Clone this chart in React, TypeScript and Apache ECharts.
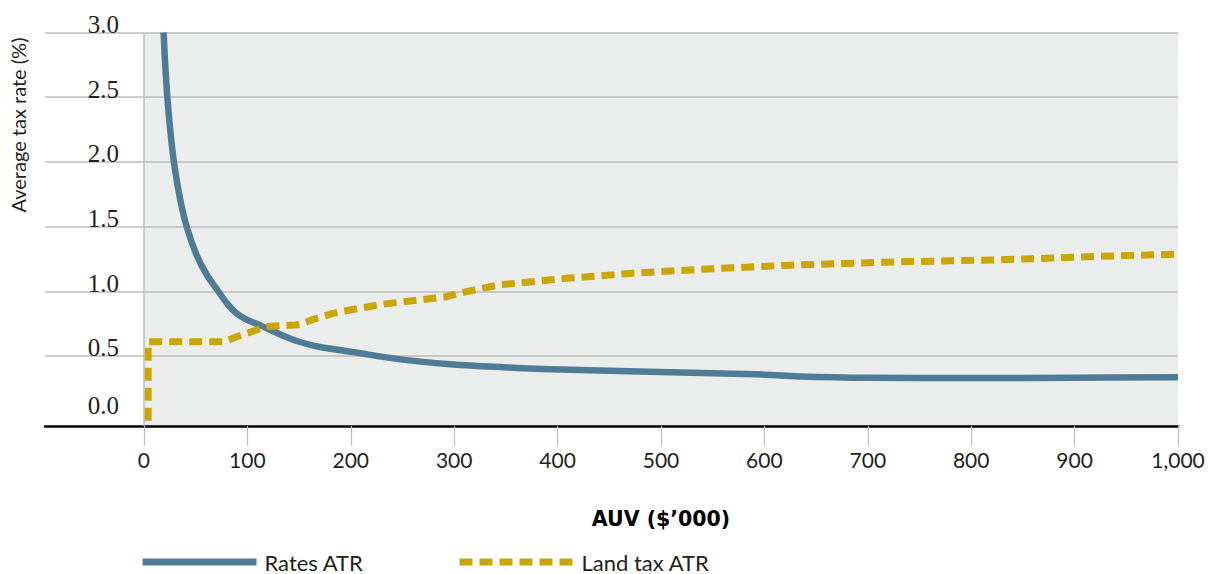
import React, { useEffect, useRef } from "react";
import * as echarts from "echarts";

const FONT = "Lato, 'Open Sans', sans-serif";
const SERIF = "'Liberation Serif', 'DejaVu Serif', serif";
const BLUE = "#4E7C97";
const GOLD = "#C9A600";
const INK = "#231F20";

const xTicks = [0, 100, 200, 300, 400, 500, 600, 700, 800, 900, 1000];
const yTicks = [0, 0.5, 1.0, 1.5, 2.0, 2.5, 3.0];

const ratesX = [19, 20.5, 22.6, 25.5, 29.3, 34.8, 41.3, 50.9, 60.6, 71.9, 80, 88, 97, 110, 120, 135, 150, 170, 200, 248, 296, 350, 393, 450, 489, 570, 600, 634, 700, 800, 900, 1000];
const ratesY = [3.0, 2.76, 2.5, 2.24, 1.98, 1.72, 1.5, 1.28, 1.13, 1.0, 0.91, 0.84, 0.79, 0.745, 0.71, 0.655, 0.61, 0.57, 0.533, 0.474, 0.437, 0.412, 0.398, 0.386, 0.378, 0.362, 0.356, 0.342, 0.332, 0.33, 0.332, 0.336];

const landX = [4, 4, 78, 90, 105, 118, 135, 146, 152, 164, 183, 190, 231, 280, 292, 312, 344, 409, 473, 538, 619, 634, 731, 828, 924, 1000];
const landY = [0, 0.61, 0.61, 0.65, 0.69, 0.727, 0.735, 0.74, 0.745, 0.784, 0.83, 0.843, 0.9, 0.946, 0.958, 0.998, 1.05, 1.1, 1.14, 1.17, 1.2, 1.204, 1.228, 1.243, 1.27, 1.287];

const seriesNames = ["Rates ATR", "Land tax ATR"];
const xTitle = "AUV ($\u2019000)";
const yTitle = "Average tax rate (%)";

const xMin = -95.7;
const xMax = 1000;
const yMin = -0.041;
const yMax = 3;

export default function App() {
  const ref = useRef<HTMLDivElement>(null);
  useEffect(() => {
    if (!ref.current) return;
    const chart = echarts.init(ref.current, undefined, { renderer: "svg" });
    const legendBase = {
      top: 546,
      itemWidth: 114,
      itemHeight: 14,
      textStyle: { fontSize: 22, color: INK, fontFamily: FONT, padding: [0, 0, 0, 3] },
      lineStyle: { width: 7 },
      itemStyle: { opacity: 0 },
    };
    const option: any = {
      animation: false,
      textStyle: { fontFamily: FONT },
      grid: { left: 45, right: 31, top: 32.5, bottom: 148, containLabel: false },
      xAxis: {
        type: "value",
        min: xMin,
        max: xMax,
        z: 3,
        axisLine: { show: true, onZero: false, lineStyle: { color: "#000", width: 2.5 } },
        axisTick: { show: true, customValues: xTicks, length: 20, lineStyle: { color: "#BDBDBD", width: 1.2 } },
        axisLabel: {
          customValues: xTicks,
          margin: 23,
          fontSize: 21,
          color: INK,
          fontFamily: FONT,
          formatter: (v: number) => v.toLocaleString("en-US"),
        },
        splitLine: { show: false },
      },
      yAxis: {
        type: "value",
        min: yMin,
        max: yMax,
        z: 1.5,
        axisLine: { show: false },
        axisTick: { show: false, customValues: yTicks.filter((v) => v > 0) },
        axisLabel: {
          customValues: yTicks,
          inside: true,
          margin: 74,
          align: "right",
          verticalAlign: "bottom",
          lineHeight: 16,
          fontSize: 25,
          color: INK,
          fontFamily: SERIF,
          formatter: (v: number) => (v === 0 ? "{z|0.0}" : v.toFixed(1)),
          rich: { z: { fontSize: 25, lineHeight: 30, color: INK, fontFamily: SERIF } },
        },
        splitLine: { show: true, lineStyle: { color: "#BDBDBD", width: 1.5 } },
      },
      legend: [
        { ...legendBase, data: [seriesNames[0]], left: 134 },
        { ...legendBase, data: [seriesNames[1]], left: 451 },
      ],
      graphic: [
        {
          type: "text",
          x: 18,
          y: 125,
          rotation: Math.PI / 2,
          style: { text: yTitle, fontSize: 20, fontFamily: FONT, fill: INK, align: "center", verticalAlign: "middle" },
        },
        {
          type: "text",
          x: 661,
          y: 519,
          style: { text: xTitle, fontSize: 20.5, fontWeight: "bold", fontFamily: "'DejaVu Sans', sans-serif", fill: "#000", align: "center", verticalAlign: "middle" },
        },
      ],
      series: [
        {
          name: seriesNames[0],
          type: "line",
          data: ratesX.map((x, i) => [x, ratesY[i]]),
          showSymbol: false,
          symbol: "none",
          smooth: 0.4,
          z: 3,
          lineStyle: { color: BLUE, width: 6.5, join: "round" },
          itemStyle: { color: BLUE },
          markArea: {
            silent: true,
            z: 1,
            itemStyle: { color: "#EBECEC" },
            data: [[{ xAxis: 0, yAxis: yMin }, { xAxis: xMax, yAxis: yMax }]],
          },
          markLine: {
            silent: true,
            symbol: "none",
            label: { show: false },
            lineStyle: { color: "#BDBDBD", width: 1.5, type: "solid" },
            data: [{ xAxis: 0 }],
          },
        },
        {
          name: seriesNames[1],
          type: "line",
          data: landX.map((x, i) => [x, landY[i]]),
          showSymbol: false,
          symbol: "none",
          z: 3,
          lineStyle: { color: GOLD, width: 7, type: [13, 7], join: "round" },
          itemStyle: { color: GOLD },
        },
      ],
    };
    chart.setOption(option);
    return () => chart.dispose();
  }, []);
  return (
    <div
      ref={ref}
      style={{ position: "absolute", left: 0, top: 0, width: "1209px", height: "574px" }}
    />
  );
}
